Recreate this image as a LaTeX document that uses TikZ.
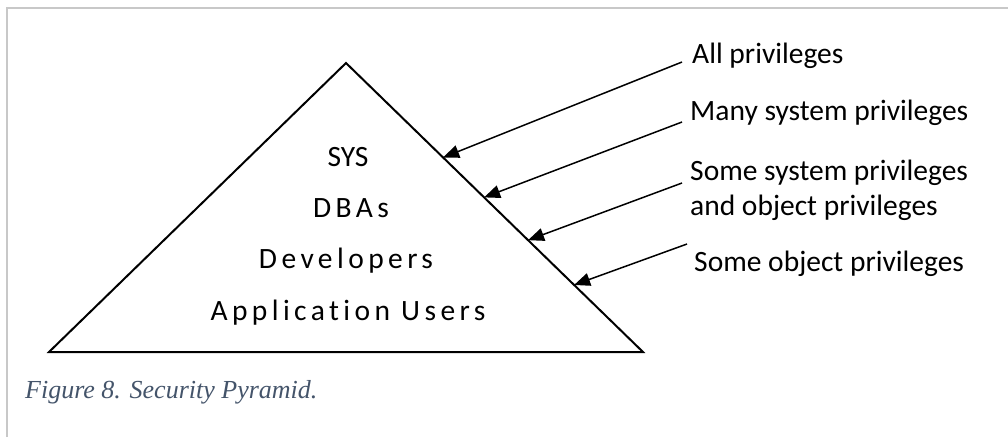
\documentclass[tikz,border=0pt]{standalone}
\usepackage{fontspec}
\setmainfont{Carlito}
\newfontfamily\spacedfont[LetterSpace=15,Ligatures=NoCommon]{Carlito}
\newfontfamily\capfont{Liberation Serif}
\usetikzlibrary{arrows.meta}
\definecolor{framegray}{RGB}{200,200,200}
\definecolor{captionblue}{RGB}{68,84,106}
\begin{document}
\begin{tikzpicture}[x=1pt,y=-1pt,
  lbl/.style={anchor=base west,inner sep=0pt,font=\fontsize{29.5}{33}\selectfont},
  tier/.style={anchor=base,inner sep=0pt,font=\fontsize{29.5}{33}\selectfont},
  pointer/.style={line width=1.5pt,-{Triangle[length=16pt,width=13pt]}}]
  \useasboundingbox (0,0) rectangle (1008,437);
  % page frame
  \draw[framegray,line width=2pt] (7,437) -- (7,8) -- (1008,8);
  % pyramid
  \coordinate (apex) at (346,63);
  \coordinate (bl) at (49,352);
  \coordinate (br) at (643,352);
  \draw[line width=2pt,line join=miter] (apex) -- (br) -- (bl) -- cycle;
  % tiers inside the pyramid
  \node[tier] (sys) at (348,166) {SYS};
  \node[tier] (dba) at (351,217) {\spacedfont DBAs};
  \node[tier] (dev) at (346,268) {\spacedfont Developers};
  \node[tier] (app) at (348,320) {\spacedfont Application Users};
  % privilege labels
  \node[lbl] (all) at (692,63) {All privileges};
  \node[lbl] (many) at (690,120) {Many system privileges};
  \node[lbl] (somesys) at (690,180) {Some system privileges};
  \node[lbl] (andobj) at (690,215) {and object privileges};
  \node[lbl] (someobj) at (694,271) {Some object privileges};
  % arrow ends
  \coordinate (s1) at (682,62);
  \coordinate (s2) at (682,122);
  \coordinate (s3) at (682,183);
  \coordinate (s4) at (687,244);
  \path (apex) -- (br) coordinate[pos=0.327] (t1)
                       coordinate[pos=0.465] (t2)
                       coordinate[pos=0.613] (t3)
                       coordinate[pos=0.768] (t4);
  \draw[pointer] (s1) -- (t1);
  \draw[pointer] (s2) -- (t2);
  \draw[pointer] (s3) -- (t3);
  \draw[pointer] (s4) -- (t4);
  % caption
  \node[anchor=base west,inner sep=0pt,text=captionblue,
        font=\capfont\itshape\fontsize{26}{30}\selectfont] (cap) at (25,398)
        {Figure 8. Security Pyramid.};
\end{tikzpicture}
\end{document}
